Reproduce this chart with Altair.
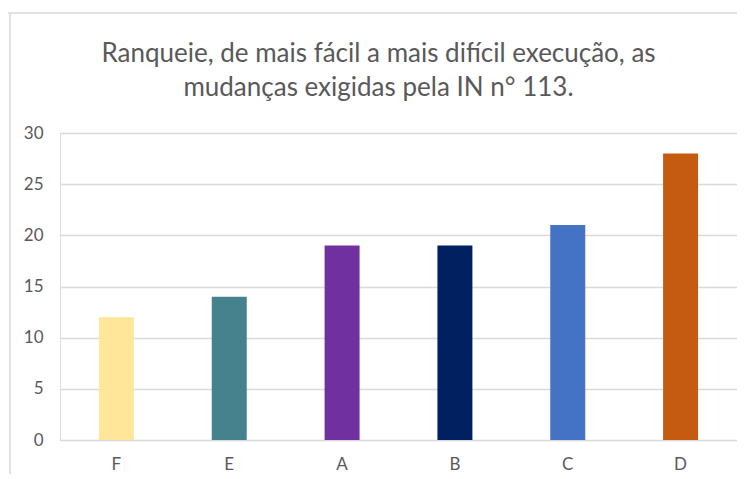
import altair as alt
import pandas as pd

categories = ["F", "E", "A", "B", "C", "D"]
values = [12, 14, 19, 19, 21, 28]
colors = ["#FFE699", "#46818E", "#7030A0", "#002060", "#4472C4", "#C55A11"]
y_ticks = [0, 5, 10, 15, 20, 25, 30]
title_lines = ["Ranqueie, de mais fácil a mais difícil execução, as",
               "mudanças exigidas pela IN n° 113."]

df = pd.DataFrame({"cat": categories, "val": values, "color": colors})

W, H = 677, 307
FONT = "Lato"
LFONT = "Lato"
GREY = "#595959"
LINE = "#D9D9D9"

bars = alt.Chart(df).mark_bar().encode(
    x=alt.X("cat:N", sort=categories,
            scale=alt.Scale(paddingInner=0.69, paddingOuter=0.345),
            axis=alt.Axis(title=None, labelAngle=0, ticks=False, domain=False,
                          labelPadding=16, labelFontSize=17, labelColor=GREY,
                          labelFont=LFONT, grid=False)),
    y=alt.Y("val:Q", scale=alt.Scale(domain=[0, 30], nice=False),
            axis=alt.Axis(title=None, values=y_ticks, ticks=False, domain=False,
                          labelPadding=17, labelFontSize=17, labelColor=GREY,
                          labelFont=LFONT, grid=True, gridColor=LINE,
                          gridWidth=1.5)),
    color=alt.Color("color:N", scale=None),
)

one = pd.DataFrame({"k": [0]})
frame_top = alt.Chart(one).mark_rule(color=LINE, strokeWidth=1.5).encode(
    x=alt.value(-53), x2=alt.value(W + 10), y=alt.value(-120))
frame_left = alt.Chart(one).mark_rule(color=LINE, strokeWidth=1.5).encode(
    x=alt.value(-50), y=alt.value(-120), y2=alt.value(H + 40))

chart = alt.layer(frame_top, frame_left, bars).properties(
    width=W, height=H,
    autosize=alt.AutoSizeParams(type="none"),
    padding={"left": 52, "top": 125, "right": 0, "bottom": 34},
    title=alt.TitleParams(text=title_lines, fontSize=26, font=FONT, color=GREY,
                          fontWeight="normal", anchor="middle", dx=-20,
                          lineHeight=34, offset=-89),
).configure_view(stroke=None).configure(background="white")

chart.save("out.html", embed_options={"renderer": "svg", "actions": False})
